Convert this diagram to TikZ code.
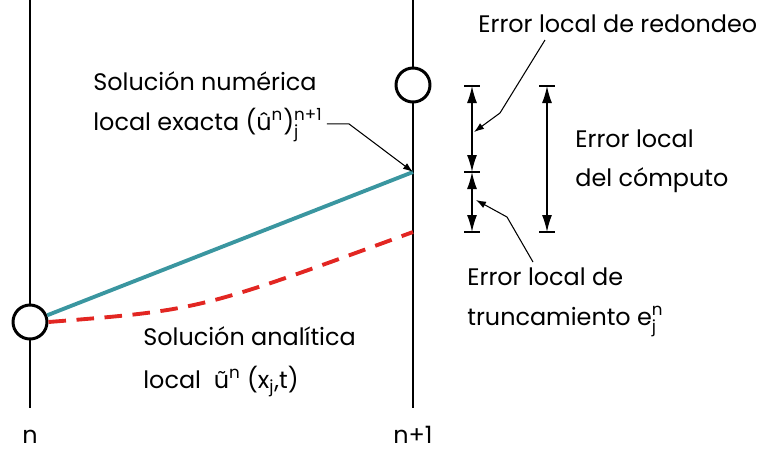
\documentclass[tikz,border=0pt]{standalone}
\usepackage{amsmath}
\usepackage{fontspec}
\setmainfont{Poppins}
\usepackage{tikz}
\usetikzlibrary{arrows.meta,positioning,calc}
\usepackage{xcolor}
\definecolor{TealS}{RGB}{58, 150, 160}
\definecolor{RedD} {RGB}{226, 38,  34}
\newcommand{\stk}[2]{$_{\text{#1}}^{\text{#2}}$}

\begin{document}
\begin{tikzpicture}[x=0.02cm,y=-0.02cm,
    lbl/.style={font=\fontsize{13.6}{15}\selectfont,anchor=base west,inner sep=0pt},
    tnode/.style={circle,draw,line width=1.7pt,fill=white,minimum size=0.68cm,inner sep=0pt},
    bar/.style={line width=0.8pt,{Latex[length=3.4mm,width=2mm]}-{Latex[length=3.4mm,width=2mm]}},
    lead/.style={line width=0.6pt,-{Latex[length=2mm,width=1.4mm]}}]
  \useasboundingbox (0,0) rectangle (765,458);
  % time levels
  \coordinate (ta) at (30,0);   \coordinate (tb) at (30,408);
  \coordinate (sa) at (413,0);  \coordinate (sb) at (413,408);
  \draw[line width=0.9pt] (ta)--(tb);
  \draw[line width=0.9pt] (sa)--(sb);
  \node[tnode] (cn)  at (30,322) {};
  \node[tnode] (cn1) at (413,85) {};
  \node[font=\fontsize{13.6}{15}\selectfont,anchor=base,inner sep=0pt] (ln)  at (30,443)  {n};
  \node[font=\fontsize{13.6}{15}\selectfont,anchor=base,inner sep=0pt] (ln1) at (413,443) {n+1};
  % solutions
  \coordinate (unum) at (413,172);
  \coordinate (uana) at (413,232);
  \draw[TealS,line width=2.2pt] (cn)--(unum);
  \draw[RedD,line width=2.2pt,dash pattern=on 10pt off 6pt]
    (cn.east) .. controls (200,310) .. (uana);
  % labels
  \node[lbl] (num1) at (93,90)  {Solución numérica};
  \node[lbl] (num2) at (93,130) {local exacta (û\textsuperscript{n})\stk{j}{n+1}};
  \node[lbl] (ana1) at (143,345) {Solución analítica};
  \node[lbl] (ana2) at (143,388) {local\ \ ũ\textsuperscript{n}\ (x\textsubscript{j},t)};
  \node[lbl] (red)  at (478,32)  {Error local de redondeo};
  \node[lbl] (cmp1) at (575,147) {Error local};
  \node[lbl] (cmp2) at (575,186) {del cómputo};
  \node[lbl] (trc1) at (467,285) {Error local de};
  \node[lbl] (trc2) at (467,325) {truncamiento e\stk{j}{n}};
  % error bars
  \foreach \n/\x/\y in {ea/472/86,eb/472/172,ec/472/232,ed/547/86,ee/547/232}{
    \coordinate (\n) at (\x,\y);
    \draw[line width=0.8pt] ($(\n)+(-8,0)$)--($(\n)+(8,0)$);}
  \draw[bar] (ea)--(eb);
  \draw[bar] (eb)--(ec);
  \draw[bar] (ed)--(ee);
  % leaders
  \coordinate (pr) at (545,40);
  \coordinate (pt) at (533,262);
  \draw[lead] ($(num2.east)+(4,-1)$) -- ++(22,0) -- (unum);
  \draw[lead] (pr) -- (500,113) -- (474,132);
  \draw[lead] (pt) -- (507,217) -- (476,200);
\end{tikzpicture}
\end{document}
